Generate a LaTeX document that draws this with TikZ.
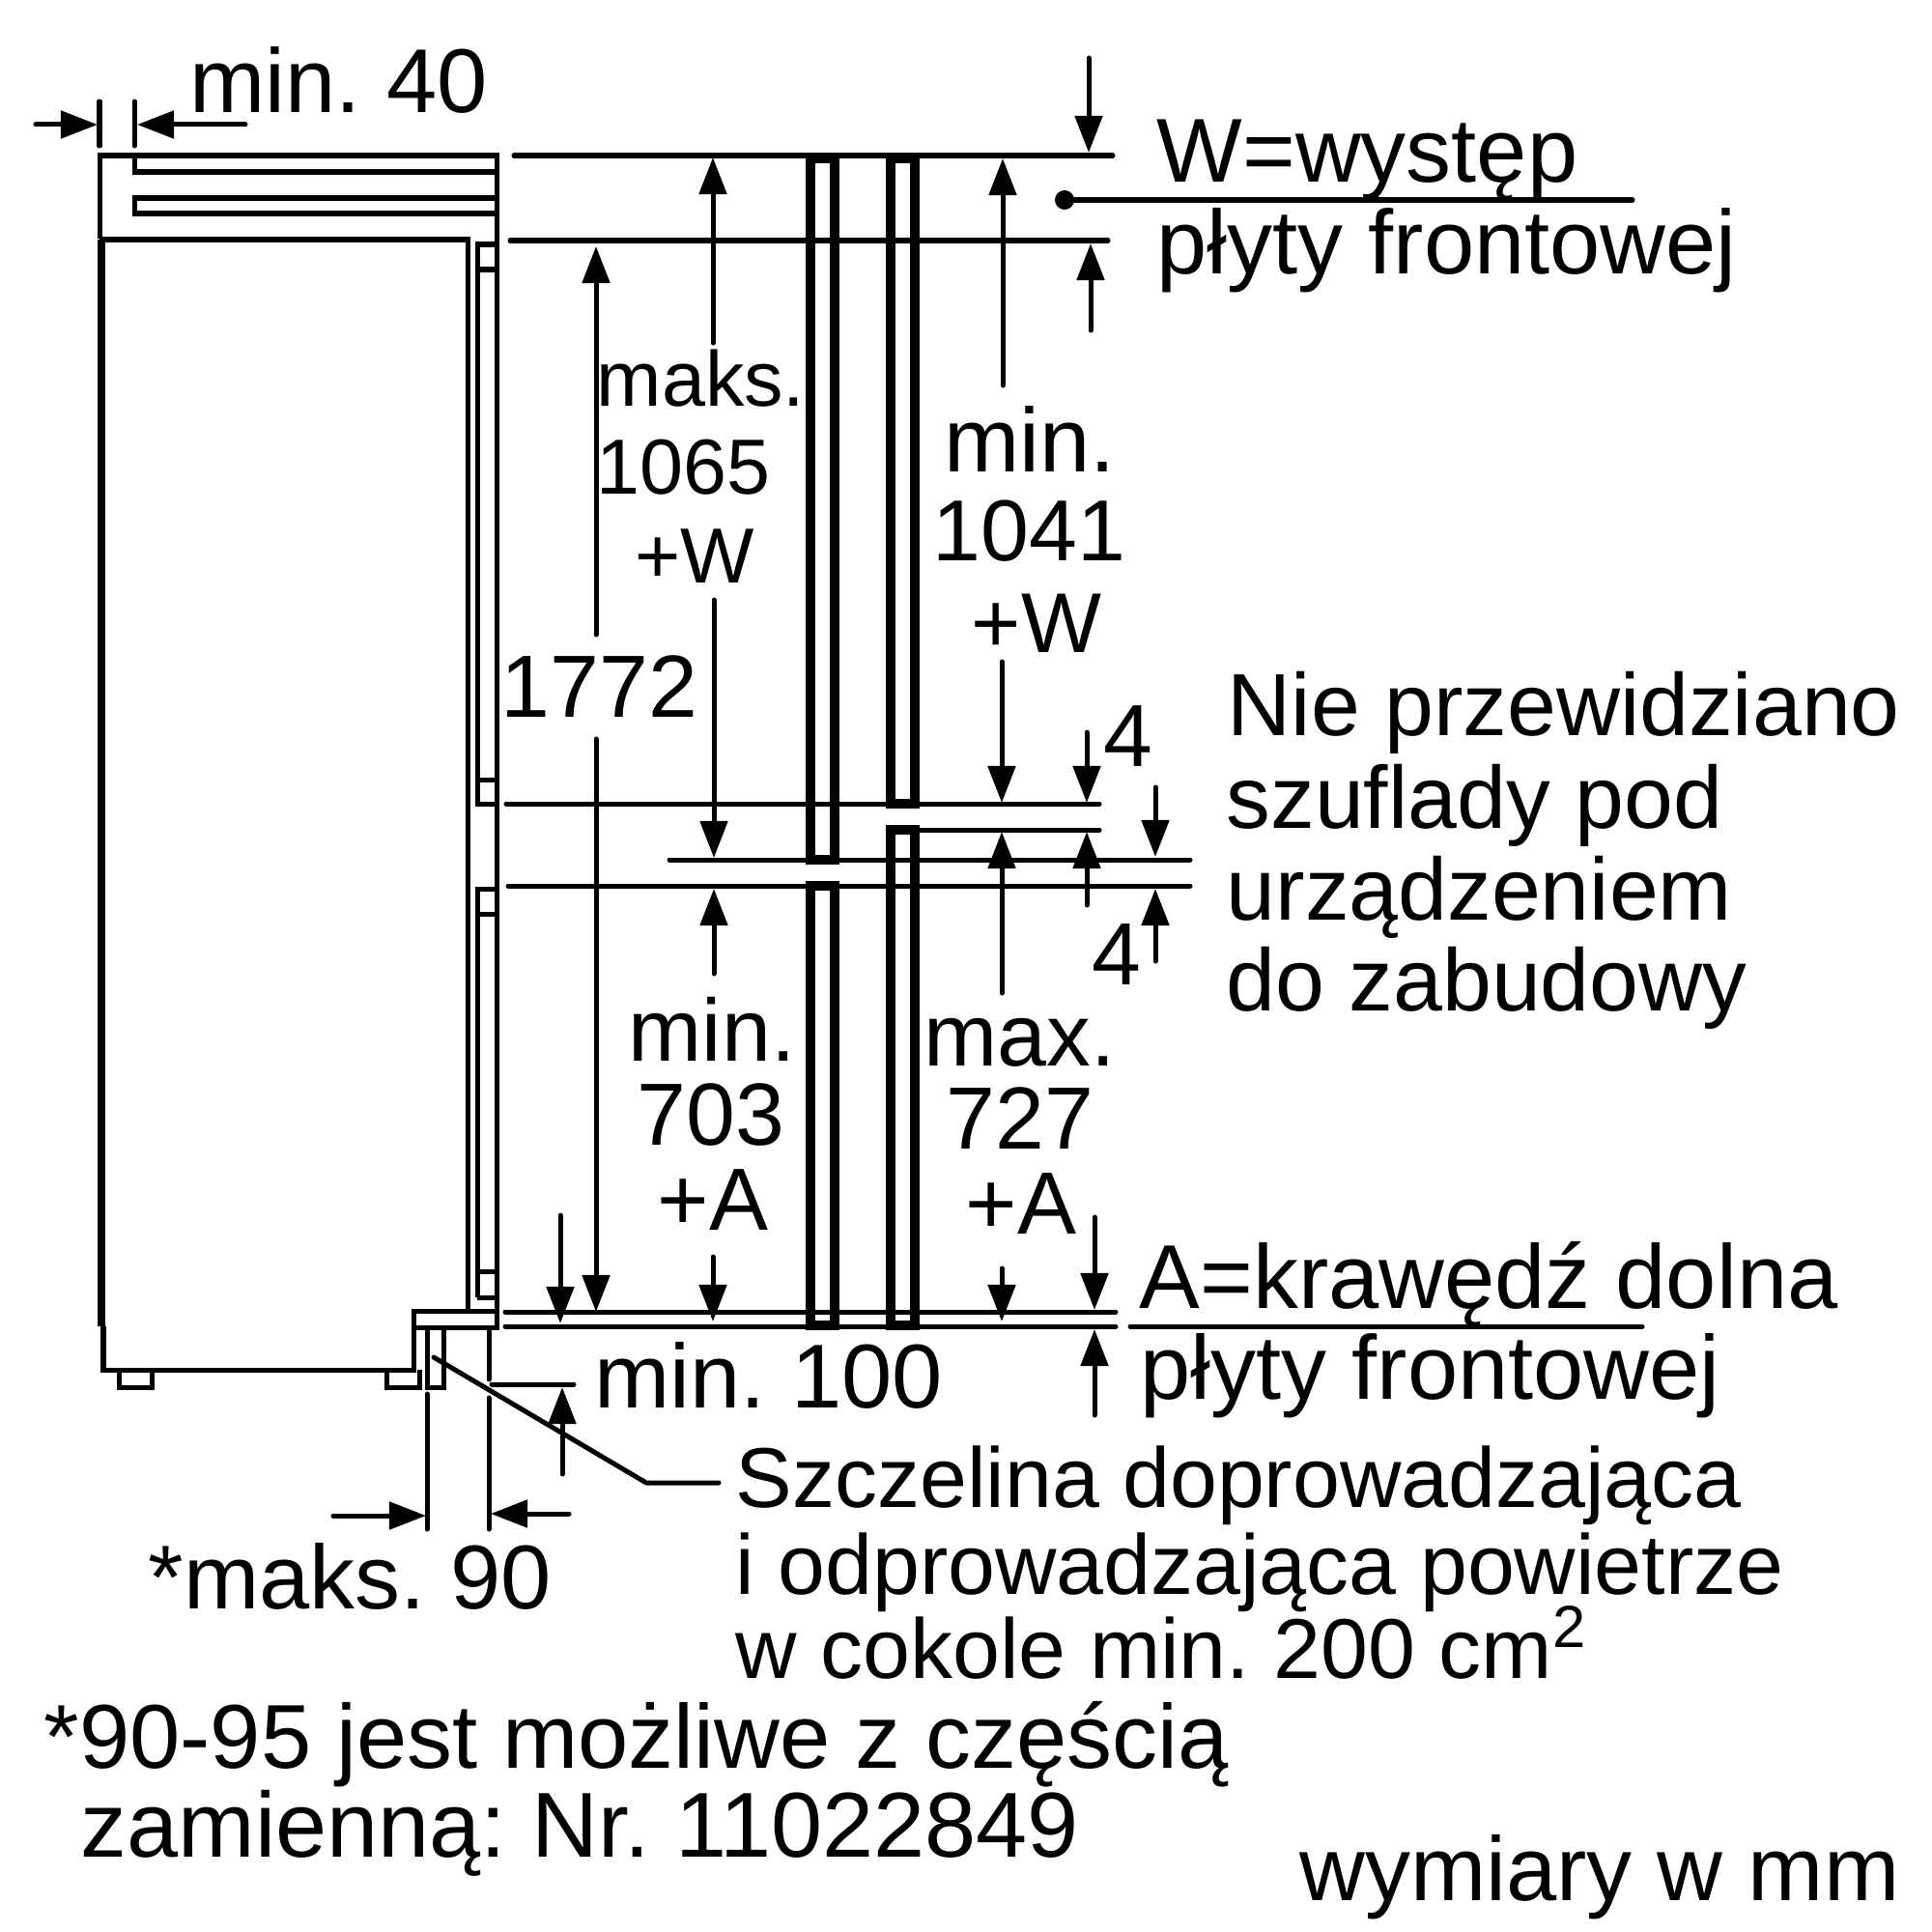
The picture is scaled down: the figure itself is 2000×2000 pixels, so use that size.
\documentclass[tikz,border=0pt]{standalone}
\usepackage{fontspec}
\setmainfont{Liberation Sans}
\usetikzlibrary{arrows.meta}
\frenchspacing
\tikzset{
  ln/.style={line width=0.05cm,line cap=round,line join=round},
  wall/.style={line width=0.05cm,line join=miter},
  panel/.style={line width=0.10cm,line join=miter},
  dim/.style={ln,-{Triangle[length=0.38cm,width=0.28cm]}},
  txt/.style={anchor=base west,inner sep=0pt,font=\fontsize{26}{30}\selectfont},
  txl/.style={txt,font=\fontsize{26.7}{30}\selectfont},
  txx/.style={txt,font=\fontsize{27.15}{31}\selectfont},
  txs/.style={txt,font=\fontsize{23}{27}\selectfont},
  txm/.style={txt,font=\fontsize{25}{29}\selectfont},
  txn/.style={txt,font=\fontsize{25.5}{29}\selectfont}
}
\begin{document}
\begin{tikzpicture}[x=0.01cm,y=-0.01cm]
\useasboundingbox (0,0) rectangle (2000,2000);
% cabinet
\draw[wall] (103.5,247) -- (103.5,161) -- (514,161) -- (514,1374) -- (428,1374);
\draw[wall] (139,161) -- (139,178) -- (514,178);
\draw[wall] (514,205) -- (139,205) -- (139,221) -- (514,221);
\draw[wall] (103,248) -- (484,248) -- (484,1357);
\draw[line width=0.085cm] (105,248) -- (105,1373);
\draw[wall] (107,1373) -- (107,1418) -- (428,1418) -- (428,1357) -- (514,1357);
% inner strips
\draw[wall] (494,1343) -- (494,920) -- (514,920);
\draw[wall] (494,946) -- (514,946);
\draw[wall] (494,1316) -- (514,1316);
\draw[wall] (494,1343) -- (514,1343);
\draw[wall] (514,253) -- (494,253) -- (494,832) -- (514,832);
\draw[wall] (494,279) -- (514,279);
\draw[wall] (494,807) -- (514,807);
% feet and vent
\draw[wall] (123,1418) -- (123,1436) -- (157,1436) -- (157,1418);
\draw[wall] (400,1418) -- (400,1436) -- (434,1436) -- (434,1418);
\draw[wall] (442,1374) -- (442,1436) -- (459,1436) -- (459,1374);
% panels
\draw[panel] (839,164) rectangle (864,890);
\draw[panel] (839,917) rectangle (864,1372);
\draw[panel] (922,164) rectangle (947,832);
\draw[panel] (922,859) rectangle (947,1372);
% horizontal reference lines
\draw[ln] (532,161) -- (1152,161);
\draw[ln] (528,249) -- (1147,249);
\draw[ln] (524,832) -- (1138,832);
\draw[ln] (952,859) -- (1138,859);
\draw[ln] (693,890) -- (1232,890);
\draw[ln] (526,917) -- (1232,917);
\draw[ln] (523,1358) -- (1155,1358);
\draw[ln] (523,1373) -- (1155,1373);
\draw[ln] (1170,1373) -- (1700,1373);
\draw[ln] (1102,207) -- (1690,207);
\fill (1102,207) circle (10);
% min. 40
\draw[ln] (103,105) -- (103,151);
\draw[ln] (139,105) -- (139,151);
\draw[dim] (37,129) -- (101,129);
\draw[dim] (254,129) -- (142,129);
% 1772
\draw[dim] (617,657) -- (617,255);
\draw[dim] (617,765) -- (617,1358);
% 1065
\draw[dim] (738,355) -- (738,163);
\draw[dim] (739,621) -- (739,888);
\draw[dim] (739,1008) -- (739,920);
\draw[dim] (738,1301) -- (738,1368);
\draw[dim] (580,1258) -- (580,1370);
% 1041
\draw[dim] (1038,399) -- (1038,164);
\draw[dim] (1037,685) -- (1037,831);
\draw[dim] (1037,1028) -- (1037,861);
\draw[dim] (1037,1313) -- (1037,1368);
% W
\draw[dim] (1127,60) -- (1127,158);
\draw[dim] (1129,342) -- (1129,252);
% 4
\draw[dim] (1125,758) -- (1125,831);
\draw[dim] (1125,937) -- (1125,861);
\draw[dim] (1196,815) -- (1196,887);
\draw[dim] (1196,995) -- (1196,920);
% A
\draw[dim] (1133,1260) -- (1133,1356);
\draw[dim] (1133,1465) -- (1133,1376);
% min. 100 and maks. 90
\draw[ln] (509,1433) -- (594,1433);
\draw[dim] (582,1526) -- (582,1436);
\draw[ln] (442,1443) -- (442,1583);
\draw[ln] (506,1378) -- (506,1428);
\draw[ln] (506,1447) -- (506,1583);
\draw[dim] (345,1569) -- (441,1569);
\draw[dim] (589,1567) -- (508,1567);
% leader
\draw[ln] (449,1405) -- (669,1535) -- (744,1535);
% texts
\node[txl] (n1) at (196,117) {min. 40};
\node[txl] (n2) at (1197,189) {W=występ};
\node[txl] (n3) at (1197,283) {płyty frontowej};
\node[txt] (n4) at (1270,761) {Nie przewidziano};
\node[txt] (n5) at (1269,857) {szuflady pod};
\node[txt] (n6) at (1269,952) {urządzeniem};
\node[txt] (n7) at (1269,1046) {do zabudowy};
\node[txs] (n8) at (617,420) {maks.};
\node[txs] (n9) at (617,511) {1065};
\node[txs] (n10) at (657,603) {+W};
\node[txl] (n11) at (977,488) {min.};
\node[txn] (n12) at (965,580) {1041};
\node[txm] (n13) at (1005,675) {+W};
\node[txt] (n14) at (518,742) {1772};
\node[txt] (n15) at (1142,793) {4};
\node[txt] (n16) at (1130,1019) {4};
\node[txt] (n17) at (650,1098) {min.};
\node[txt] (n18) at (659,1185) {703};
\node[txt] (n19) at (680,1273) {+A};
\node[txt] (n20) at (956,1103) {max.};
\node[txt] (n21) at (979,1189) {727};
\node[txt] (n22) at (999,1277) {+A};
\node[txl] (n23) at (1179,1354) {A=krawędź dolna};
\node[txl] (n24) at (1180,1448) {płyty frontowej};
\node[txl] (n25) at (615,1457) {min. 100};
\node[txm] (n26) at (761,1560) {Szczelina doprowadzająca};
\node[txm] (n27) at (761,1650) {i odprowadzająca powietrze};
\node[txm] (n28) at (761,1737) {w cokole min. 200 cm\textsuperscript{2}};
\node[txl] (n29) at (153,1665) {*maks. 90};
\node[txl] (n30) at (45,1830) {*90-95 jest możliwe z częścią};
\node[txx] (n31) at (83,1922) {zamienną: Nr. 11022849};
\node[txl] (n32) at (1345,1967) {wymiary w mm};
\end{tikzpicture}
\end{document}
